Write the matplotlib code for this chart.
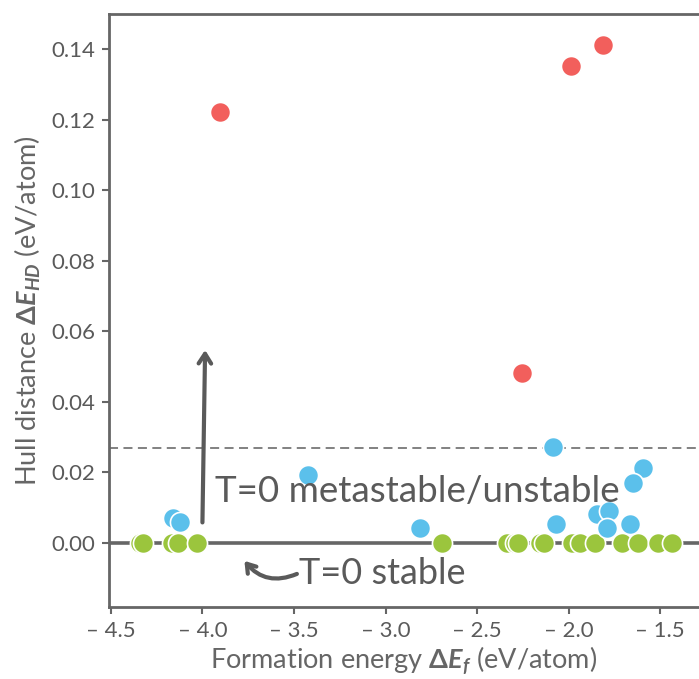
import numpy as np
import matplotlib.pyplot as plt

plt.rcParams['font.family'] = ['Lato', 'DejaVu Sans']
plt.rcParams['mathtext.fontset'] = 'custom'
plt.rcParams['mathtext.rm'] = 'Lato:bold'
plt.rcParams['mathtext.it'] = 'Lato:bold:italic'
plt.rcParams['mathtext.bf'] = 'Lato:bold'

grey = '#5a5a5a'

# unstable (above hull cutoff)
red_x = [-3.906, -2.252, -1.988, -1.81]
red_y = [0.1222, 0.0482, 0.1353, 0.1412]

# metastable (below cutoff)
blue_x = [-4.158, -4.124, -3.424, -2.813, -2.083, -2.07, -1.595, -1.65,
          -1.843, -1.777, -1.788, -1.665]
blue_y = [0.0070, 0.0060, 0.0191, 0.0042, 0.0272, 0.0053, 0.0212, 0.0171,
          0.0082, 0.0091, 0.0041, 0.0053]

# stable (on hull)
green_x = [-4.34, -4.324, -4.164, -4.133, -4.027, -2.691, -2.337, -2.292,
           -2.274, -2.155, -2.137, -1.983, -1.937, -1.855, -1.71, -1.62,
           -1.51, -1.437]
green_y = [0.0] * len(green_x)

cutoff = 0.027

xticks = [-4.5, -4.0, -3.5, -3.0, -2.5, -2.0, -1.5]
xlabels = ['\u2013 4.5', '\u2013 4.0', '\u2013 3.5', '\u2013 3.0', '\u2013 2.5', '\u2013 2.0', '\u2013 1.5']
yticks = [0.00, 0.02, 0.04, 0.06, 0.08, 0.10, 0.12, 0.14]
ylabels = ['%.2f' % v for v in yticks]

fig = plt.figure(figsize=(6.99, 6.79), dpi=100)
ax = fig.add_axes([109 / 699, 1 - 607 / 679, 1 - 109 / 699, (607 - 14) / 679])

ax.axhline(0, color='#666666', lw=2.6, zorder=1)
ax.axhline(cutoff, color='#777777', lw=1.3, ls='--', dashes=(5, 3), zorder=1)

ms = 210
ax.scatter(green_x, green_y, s=ms, color='#9BC53D', edgecolors='white', linewidths=1.2, zorder=3)
ax.scatter(blue_x, blue_y, s=ms, color='#5BC0EB', edgecolors='white', linewidths=1.2, zorder=4)
ax.scatter(red_x, red_y, s=ms, color='#F25F5C', edgecolors='white', linewidths=1.2, zorder=4)

# arrows and annotations
ax.annotate('', xy=(-3.985, 0.0555), xytext=(-4.0, 0.005),
            arrowprops=dict(arrowstyle='->,head_length=0.7,head_width=0.45', color=grey, lw=3),
            zorder=5)
ax.text(-3.93, 0.0145, 'T=0 metastable/unstable', fontsize=26.5, color=grey,
        va='center', ha='left', zorder=6)
ax.annotate('', xy=(-3.78, -0.0045), xytext=(-3.47, -0.0085),
            arrowprops=dict(arrowstyle='->,head_length=0.6,head_width=0.4', color=grey, lw=3,
                            connectionstyle='arc3,rad=-0.4'), zorder=5)
ax.text(-3.47, -0.0088, 'T=0 stable', fontsize=26, color=grey, va='center', ha='left')

ax.set_xlim(-4.51, -1.288)
ax.set_ylim(-0.0182, 0.150)
ax.set_xticks(xticks)
ax.set_xticklabels(xlabels, fontsize=16)
ax.set_yticks(yticks)
ax.set_yticklabels(ylabels, fontsize=16)

for side in ['left', 'top', 'bottom']:
    ax.spines[side].set_color('#666666')
    ax.spines[side].set_linewidth(2)
ax.spines['right'].set_visible(False)
ax.tick_params(axis='both', colors='#666666', labelcolor=grey,
               length=5, width=1.5, direction='out', pad=5)

ax.set_xlabel(r'Formation energy $\Delta E_f$ (eV/atom)', fontsize=19.5,
              color='#666666', labelpad=3)
ax.set_ylabel(r'Hull distance $\Delta E_{HD}$ (eV/atom)', fontsize=19.5,
              color='#666666', labelpad=6)

fig.savefig('out.png', dpi=100)
